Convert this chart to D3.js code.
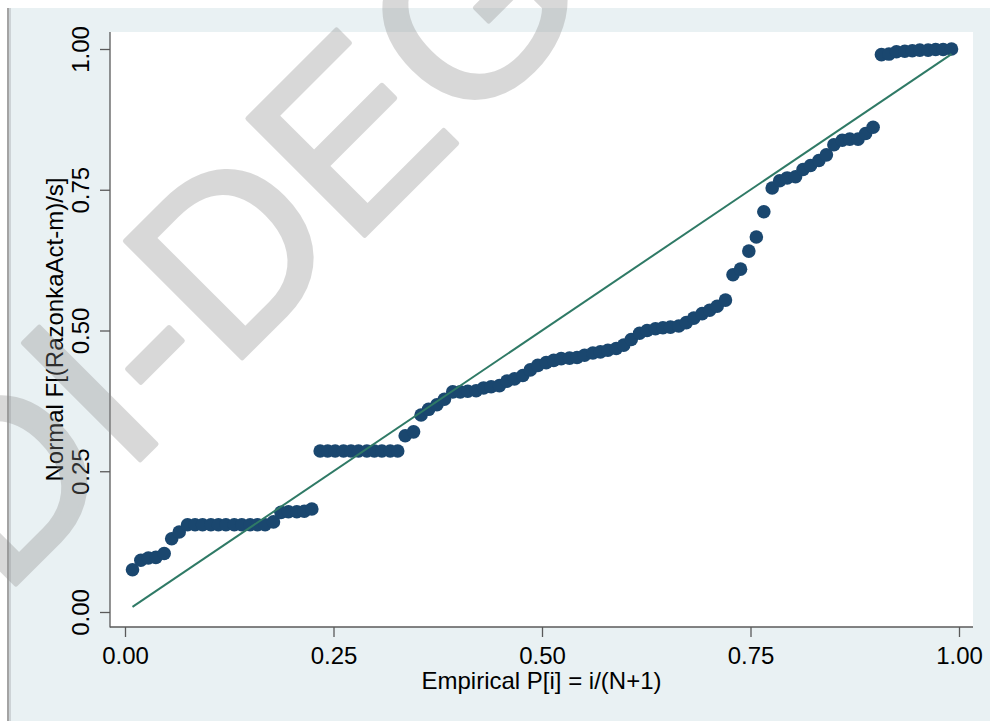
<!DOCTYPE html>
<html>
<head>
<meta charset="utf-8">
<script src="https://cdn.jsdelivr.net/npm/d3@7"></script>
<style>
  body { margin: 0; background: #fff; }
  svg { display: block; font-family: "Liberation Sans", Arial, sans-serif; }
</style>
</head>
<body>
<script>
// empirical probabilities i/(N+1), N = 106
var empP = [
  0.009, 0.019, 0.028, 0.037, 0.047, 0.056, 0.065, 0.075, 0.084, 0.093,
  0.103, 0.112, 0.121, 0.131, 0.140, 0.150, 0.159, 0.168, 0.178, 0.187,
  0.196, 0.206, 0.215, 0.224, 0.234, 0.243, 0.252, 0.262, 0.271, 0.280,
  0.290, 0.299, 0.308, 0.318, 0.327, 0.336, 0.346, 0.355, 0.364, 0.374,
  0.383, 0.393, 0.402, 0.411, 0.421, 0.430, 0.439, 0.449, 0.458, 0.467,
  0.477, 0.486, 0.495, 0.505, 0.514, 0.523, 0.533, 0.542, 0.551, 0.561,
  0.570, 0.579, 0.589, 0.598, 0.607, 0.617, 0.626, 0.636, 0.645, 0.654,
  0.664, 0.673, 0.682, 0.692, 0.701, 0.710, 0.720, 0.729, 0.738, 0.748,
  0.757, 0.766, 0.776, 0.785, 0.794, 0.804, 0.813, 0.822, 0.832, 0.841,
  0.850, 0.860, 0.869, 0.879, 0.888, 0.897, 0.907, 0.916, 0.925, 0.935,
  0.944, 0.953, 0.963, 0.972, 0.981, 0.991
]

// normal F[(RazonkaAct-m)/s]
var normF = [
  0.075, 0.092, 0.096, 0.097, 0.104, 0.130, 0.142, 0.155, 0.155, 0.155,
  0.155, 0.155, 0.155, 0.155, 0.155, 0.155, 0.155, 0.155, 0.160, 0.177,
  0.178, 0.178, 0.179, 0.183, 0.286, 0.286, 0.286, 0.286, 0.286, 0.286,
  0.286, 0.286, 0.286, 0.286, 0.286, 0.313, 0.320, 0.350, 0.360, 0.368,
  0.378, 0.391, 0.391, 0.392, 0.393, 0.398, 0.400, 0.402, 0.410, 0.414,
  0.420, 0.430, 0.438, 0.443, 0.447, 0.450, 0.451, 0.452, 0.456, 0.460,
  0.462, 0.465, 0.468, 0.474, 0.484, 0.495, 0.500, 0.503, 0.505, 0.506,
  0.508, 0.514, 0.522, 0.530, 0.536, 0.543, 0.554, 0.599, 0.609, 0.641,
  0.666, 0.711, 0.753, 0.766, 0.771, 0.773, 0.786, 0.793, 0.802, 0.812,
  0.830, 0.838, 0.840, 0.840, 0.850, 0.861, 0.990, 0.991, 0.995, 0.996,
  0.997, 0.998, 0.998, 0.999, 0.999, 1.000
]

var tickVals = [0, 0.25, 0.5, 0.75, 1]
var xTitle = 'Empirical P[i] = i/(N+1)'
var yTitle = 'Normal F[(RazonkaAct-m)/s]'
var watermark = 'DI-DEG'

var W = 990, H = 721
var plot = {left: 110, right: 973, top: 32, bottom: 627}

var svg = d3.select('body').append('svg')
    .attr('width', W).attr('height', H)

// outer region + window edge
svg.append('rect').attr('x', 11).attr('y', 8).attr('width', W - 11).attr('height', H - 8)
    .attr('fill', '#e9f1f3')
svg.append('rect').attr('x', 7).attr('y', 8).attr('width', 2).attr('height', H - 8)
    .attr('fill', '#a4a4a4')
svg.append('rect').attr('x', 9).attr('y', 8).attr('width', 2).attr('height', H - 8)
    .attr('fill', '#cdd3d6')

// plot region
svg.append('rect').attr('x', plot.left).attr('y', plot.top)
    .attr('width', plot.right - plot.left).attr('height', plot.bottom - plot.top)
    .attr('fill', '#fff')

var x = d3.scaleLinear().domain([0, 1]).range([125, 959])
var y = d3.scaleLinear().domain([0, 1]).range([612, 49])

var fmt = d3.format('.2f')

// y axis
var yAxis = svg.append('g').attr('transform', 'translate(' + plot.left + ',0)')
    .call(d3.axisLeft(y).tickValues(tickVals).tickFormat(fmt).tickSize(10).tickPadding(0))
yAxis.select('.domain').remove()
yAxis.selectAll('line').attr('stroke', '#5a5a5a').attr('stroke-width', 1.3)
yAxis.selectAll('text')
    .attr('x', null).attr('dy', null)
    .attr('transform', 'translate(-21,0) rotate(-90)')
    .attr('text-anchor', 'middle')
    .attr('font-size', 24).attr('fill', '#000')
    .attr('font-family', '"Liberation Sans", Arial, sans-serif')

// x axis
var xAxis = svg.append('g').attr('transform', 'translate(0,' + plot.bottom + ')')
    .call(d3.axisBottom(x).tickValues(tickVals).tickFormat(fmt).tickSize(10).tickPadding(0))
xAxis.select('.domain').remove()
xAxis.selectAll('line').attr('stroke', '#5a5a5a').attr('stroke-width', 1.3)
xAxis.selectAll('text')
    .attr('y', 37).attr('dy', null)
    .attr('font-size', 24).attr('fill', '#000')
    .attr('font-family', '"Liberation Sans", Arial, sans-serif')

// axis lines
svg.append('line').attr('x1', plot.left).attr('x2', plot.left)
    .attr('y1', plot.top).attr('y2', plot.bottom + 0.5)
    .attr('stroke', '#5a5a5a').attr('stroke-width', 1.3)
svg.append('line').attr('x1', plot.left).attr('x2', plot.right)
    .attr('y1', plot.bottom).attr('y2', plot.bottom)
    .attr('stroke', '#5a5a5a').attr('stroke-width', 1.3)

// titles
svg.append('text').attr('x', (plot.left + plot.right) / 2).attr('y', 689)
    .attr('text-anchor', 'middle').attr('font-size', 24).text(xTitle)
svg.append('text')
    .attr('transform', 'translate(63,' + (plot.top + plot.bottom) / 2 + ') rotate(-90)')
    .attr('text-anchor', 'middle').attr('font-size', 24).text(yTitle)

var pts = empP.map(function(p, i) { return {p: p, f: normF[i]} })

// markers
svg.append('g').selectAll('circle')
    .data(pts)
    .enter()
    .append('circle')
    .attr('cx', function(d) { return x(d.p) })
    .attr('cy', function(d) { return y(d.f) })
    .attr('r', 6.8)
    .attr('fill', '#1a476f')

// reference line y = x
var first = empP[0], last = empP[empP.length - 1]
svg.append('line')
    .attr('x1', x(first)).attr('y1', y(first))
    .attr('x2', x(last)).attr('y2', y(last))
    .attr('stroke', '#2f7a66').attr('stroke-width', 2)

// watermark (rounded strokes, one flat transparency)
svg.append('g').attr('opacity', 0.33)
  .append('text')
    .attr('transform', 'translate(2,598) rotate(-45)')
    .attr('font-size', 240)
    .attr('fill', '#8c8c8c')
    .attr('stroke', '#8c8c8c').attr('stroke-width', 5)
    .attr('stroke-linejoin', 'round')
    .text(watermark)
</script>
</body>
</html>
